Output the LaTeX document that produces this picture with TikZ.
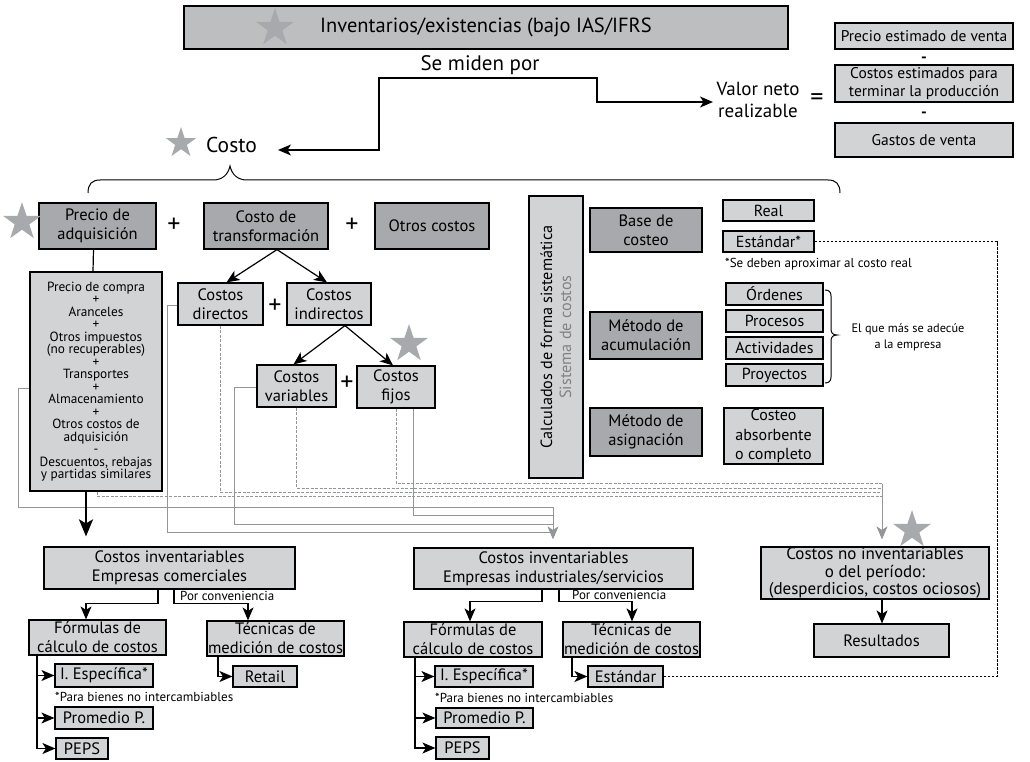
\documentclass[tikz,border=0pt]{standalone}
\usepackage{fontspec}
\setmainfont{PT Sans}
\usetikzlibrary{calc, arrows.meta, shapes.geometric}

\definecolor{boxgray}{RGB}{209,211,212}
\definecolor{darkfill}{RGB}{167,169,172}
\definecolor{titlegray}{RGB}{188,190,192}
\definecolor{stargray}{RGB}{167,169,172}
\definecolor{linegray}{RGB}{147,149,152}
\definecolor{textgray}{RGB}{128,130,133}

\newcommand{\fs}[2]{\fontsize{#1}{#2}\selectfont\lineskiplimit=-10pt\lineskip=0pt}

\begin{document}
\begin{tikzpicture}[x=1pt, y=-1pt, >={Stealth[length=13pt,width=11pt,inset=3.5pt]},
  box/.style={draw=black, line width=1.2pt, fill=boxgray, inner sep=0pt, align=center},
  darkbox/.style={box, fill=darkfill},
  txt/.style={inner sep=0pt, align=center},
  starmark/.style={star, star points=5, star point ratio=2.6, fill=stargray, inner sep=0pt, minimum size=#1},
  conn/.style={black, line width=1.2pt},
  gline/.style={linegray, line width=1pt},
  gdash/.style={linegray, line width=0.9pt, dash pattern=on 3pt off 1.5pt},
  kdash/.style={black, line width=1pt, dash pattern=on 2.5pt off 1.5pt},
  bigtxt/.style={txt, font=\fs{21}{24}},
  plus/.style={txt, font=\fs{26}{26}},
  midtxt/.style={font=\fs{16.5}{19}},
  smalltxt/.style={font=\fs{16}{18}},
  notetxt/.style={txt, font=\fs{13}{15}},
]
  \useasboundingbox (0,0) rectangle (1030,762);

  % top
  \node[box, fill=titlegray, minimum width=604, minimum height=43, font=\fs{20.5}{24}] (title) at (486,27.5) {Inventarios/existencias (bajo IAS/IFRS};
  \node[starmark=40] (startitle) at (275,28) {};
  \node[bigtxt] (semiden) at (480,65) {Se miden por};
  \node[bigtxt, anchor=west, font=\fs{21.5}{24}] (costo) at (206,145) {Costo};
  \node[starmark=32] (starcosto) at (181,143) {};
  \node[txt, font=\fs{19}{22}] (vnr) at (758,100) {Valor neto\\realizable};
  \node[plus] (eq) at (817,100) {=};
  \coordinate (costoin) at (278,150);
  \coordinate (vnrin) at (713,102);
  \draw[conn, <->] (costoin) -| (379,78) -| (597,102) -- (vnrin);

  \node[box, minimum width=178, minimum height=26, font=\fs{15.5}{18}] (pev) at (924,36) {Precio estimado de venta};
  \node[txt, font=\fs{16}{16}\bfseries] (minus1) at (924,60) {-};
  \node[box, minimum width=178, minimum height=37, font=\fs{15.5}{18}] (cet) at (924,83.5) {Costos estimados para\\terminar la producción};
  \node[txt, font=\fs{16}{16}\bfseries] (minus2) at (924,115) {-};
  \node[box, minimum width=178, minimum height=34, font=\fs{15.5}{18}] (gv) at (924,140) {Gastos de venta};

  \draw[conn, line width=1pt] (88,193) .. controls (88,184) and (92,180) .. (100,180) -- (213,180)
    .. controls (222,180) and (228,175) .. (230,166) .. controls (232,175) and (238,180) .. (247,180)
    -- (828,180) .. controls (836,180) and (840,184) .. (840,193);

  % costo
  \node[darkbox, minimum width=117, minimum height=46, midtxt] (pa) at (97.5,226) {Precio de\\adquisición};
  \node[starmark=40] (starpa) at (22,222) {};
  \node[plus] (plus1) at (174,225) {+};
  \node[darkbox, minimum width=124, minimum height=46, midtxt] (ct) at (266,226) {Costo de\\transformación};
  \node[plus] (plus2) at (352,225) {+};
  \node[darkbox, minimum width=114, minimum height=46, midtxt] (oc) at (432,226) {Otros costos};

  \node[box, minimum width=132, minimum height=219, font=\fs{13.3}{12.5}] (lista) at (96,381.5)
    {Precio de compra\\+\\Aranceles\\+\\Otros impuestos\\(no recuperables)\\+\\Transportes\\+\\Almacenamiento\\+\\Otros costos de\\adquisición\\-\\Descuentos, rebajas\\y partidas similares};
  \draw[conn] ([xshift=-4]pa.south) -- ([xshift=-3]lista.north);

  \node[box, minimum width=85, minimum height=42, midtxt] (cd) at (220.5,304) {Costos\\directos};
  \node[plus] (plus3) at (275,306) {+};
  \node[box, minimum width=84, minimum height=42, midtxt] (ci) at (329,304) {Costos\\indirectos};
  \node[box, minimum width=79, minimum height=42, midtxt] (cv) at (296.5,386) {Costos\\variables};
  \node[plus] (plus4) at (347,383) {+};
  \node[box, minimum width=78, minimum height=42, midtxt] (cf) at (396,387) {Costos\\fijos};
  \node[starmark=40] (starcf) at (409,344) {};
  \draw[conn, ->] ([xshift=11]ct.south) -- ([xshift=6]cd.north);
  \draw[conn, ->] ([xshift=11]ct.south) -- ([xshift=-2]ci.north);
  \draw[conn, ->] ([xshift=16]ci.south) -- ([xshift=-3]cv.north);
  \draw[conn, ->] ([xshift=16]ci.south) -- ([xshift=-3]cf.north);

  % sistema de costos
  \node[box, rotate=90, minimum width=282, minimum height=54, font=\fs{16.2}{19}] (calc) at (556,337)
    {Calculados de forma sistemática\\\textcolor{textgray}{Sistema de costos}};
  \node[darkbox, minimum width=112, minimum height=44, midtxt] (base) at (646,230) {Base de\\costeo};
  \node[darkbox, minimum width=112, minimum height=47, midtxt] (acum) at (646,335.5) {Método de\\acumulación};
  \node[darkbox, minimum width=112, minimum height=48, midtxt] (asig) at (646,432) {Método de\\asignación};
  \node[box, minimum width=91, minimum height=21, smalltxt] (real) at (768.5,210.5) {Real};
  \node[box, minimum width=91, minimum height=21, smalltxt] (std1) at (768.5,241.5) {Estándar*};
  \node[notetxt, anchor=west] (nota1) at (725,264) {*Se deben aproximar al costo real};
  \foreach \name/\lab/\y in {ord/Órdenes/294, proc/Procesos/321, act/Actividades/348, proy/Proyectos/375}
    \node[box, minimum width=97, minimum height=22, smalltxt] (\name) at (774.5,\y) {\lab};
  \draw[conn, line width=1pt] (825,290) .. controls (829,290) and (831,292) .. (831,296) -- (831,329)
    .. controls (831,333) and (833,335) .. (837,335) .. controls (833,335) and (831,337) .. (831,341)
    -- (831,377) .. controls (831,381) and (829,383) .. (825,383);
  \node[notetxt, font=\fs{12.3}{16}] (adecue) at (908,337) {El que más se adecúe\\a la empresa};
  \node[box, minimum width=99, minimum height=56, font=\fs{16}{19.5}] (absorb) at (773.5,436) {Costeo\\absorbente\\o completo};

  % bottom
  \node[box, minimum width=251, minimum height=42, font=\fs{16.5}{19}] (com) at (169.5,568) {Costos inventariables\\Empresas comerciales};
  \node[box, minimum width=279, minimum height=41, font=\fs{16.5}{19}] (ind) at (553.5,568.5) {Costos inventariables\\Empresas industriales/servicios};
  \node[box, minimum width=228, minimum height=52, font=\fs{17}{17.3}] (noinv) at (875,573) {Costos no inventariables\\o del período:\\(desperdicios, costos ociosos)};
  \node[box, minimum width=135, minimum height=33, midtxt] (res) at (881.5,640.5) {Resultados};
  \node[starmark=40] (starni) at (912,530) {};

  \node[box, minimum width=137, minimum height=35, midtxt] (forml) at (97.5,637.5) {Fórmulas de\\cálculo de costos};
  \node[box, minimum width=137, minimum height=35, midtxt] (tecl) at (275.5,638.5) {Técnicas de\\medición de costos};
  \node[box, minimum width=64, minimum height=21, midtxt] (retail) at (265,676.5) {Retail};
  \node[box, minimum width=98, minimum height=23, midtxt] (iel) at (104,675.5) {I. Específica*};
  \node[notetxt, anchor=west] (notal) at (55,697) {*Para bienes no intercambiables};
  \node[box, minimum width=98, minimum height=22, midtxt] (ppl) at (104,718) {Promedio P.};
  \node[box, minimum width=52, minimum height=21, midtxt] (pepsl) at (82,748.5) {PEPS};

  \node[box, minimum width=138, minimum height=35, midtxt] (formr) at (473,639.5) {Fórmulas de\\cálculo de costos};
  \node[box, minimum width=137, minimum height=35, midtxt] (tecr) at (631.5,639.5) {Técnicas de\\medición de costos};
  \node[box, minimum width=75, minimum height=21, midtxt] (std2) at (625.5,676.5) {Estándar};
  \node[box, minimum width=98, minimum height=21, midtxt] (ier) at (484,676.5) {I. Específica*};
  \node[notetxt, anchor=west] (notar) at (435,698) {*Para bienes no intercambiables};
  \node[box, minimum width=97, minimum height=20, midtxt] (ppr) at (484.5,718) {Promedio P.};
  \node[box, minimum width=53, minimum height=22, midtxt] (pepsr) at (462.5,748) {PEPS};

  % hacia costos inventariables (gris)
  \coordinate (jn) at (553,507);
  \draw[gline] ([yshift=-6.5]lista.west) -| (18,507) -- (jn);
  \draw[gline] ([xshift=17]cf.south) |- (553,515);
  \draw[gline] ([yshift=-1]cv.west) -| (234,524) -- (553,524);
  \draw[gline] ([yshift=-1]cd.west) -| (167,532) -- (553,532);
  \draw[gline, ->] (jn) -- ([yshift=8]jn |- ind.north);

  % hacia costos no inventariables
  \coordinate (jd) at (882,483.5);
  \draw[gdash] ([xshift=1]lista.south) |- (882,496);
  \draw[gdash] (cd.south) |- (882,492.5);
  \draw[gdash] (cv.south) |- (882,488);
  \draw[gdash] (cf.south) |- (jd);
  \draw[gline, ->] (jd) -- ([yshift=7]jd |- noinv.north);
  \draw[conn, ->] ([xshift=7]noinv.south) -- ([xshift=0.5]res.north);

  \draw[kdash] (std1.east) -- (997,241.5) |- (std2.east);
  \draw[black, line width=2.6pt, -{Stealth[length=17pt,width=14pt,inset=4pt]}] ([xshift=-10]lista.south) -- ([xshift=-10,yshift=10]lista.south |- com.north);

  % comerciales
  \draw[conn, ->] ([xshift=-11.5]com.south) -- ++(0,14) -| ([xshift=-11.5]forml.north);
  \draw[conn, ->] ([xshift=4.5]com.south) -- ++(0,14) -| ([xshift=-27.5]tecl.north);
  \node[notetxt, anchor=west] (convl) at (180,596) {Por conveniencia};
  \draw[conn, ->] ([xshift=-60.5]forml.south) |- (iel.west);
  \draw[conn, ->] ([xshift=-60.5]forml.south) |- (ppl.west);
  \draw[conn, ->] ([xshift=-60.5]forml.south) |- (pepsl.west);
  \draw[conn, ->] ([xshift=-57.5]tecl.south) |- (retail.west);

  % industriales
  \draw[conn, ->] ([xshift=-11.5]ind.south) -- ++(0,12) -| ([xshift=-3]formr.north);
  \draw[conn, ->] ([xshift=5.5]ind.south) -- ++(0,12) -| ([xshift=0.5]tecr.north);
  \node[notetxt, anchor=west] (convr) at (572,595) {Por conveniencia};
  \draw[conn, ->] ([xshift=-58]formr.south) |- (ier.west);
  \draw[conn, ->] ([xshift=-58]formr.south) |- (ppr.west);
  \draw[conn, ->] ([xshift=-58]formr.south) |- (pepsr.west);
  \draw[conn, ->] ([xshift=-59.5]tecr.south) |- (std2.west);
\end{tikzpicture}
\end{document}
